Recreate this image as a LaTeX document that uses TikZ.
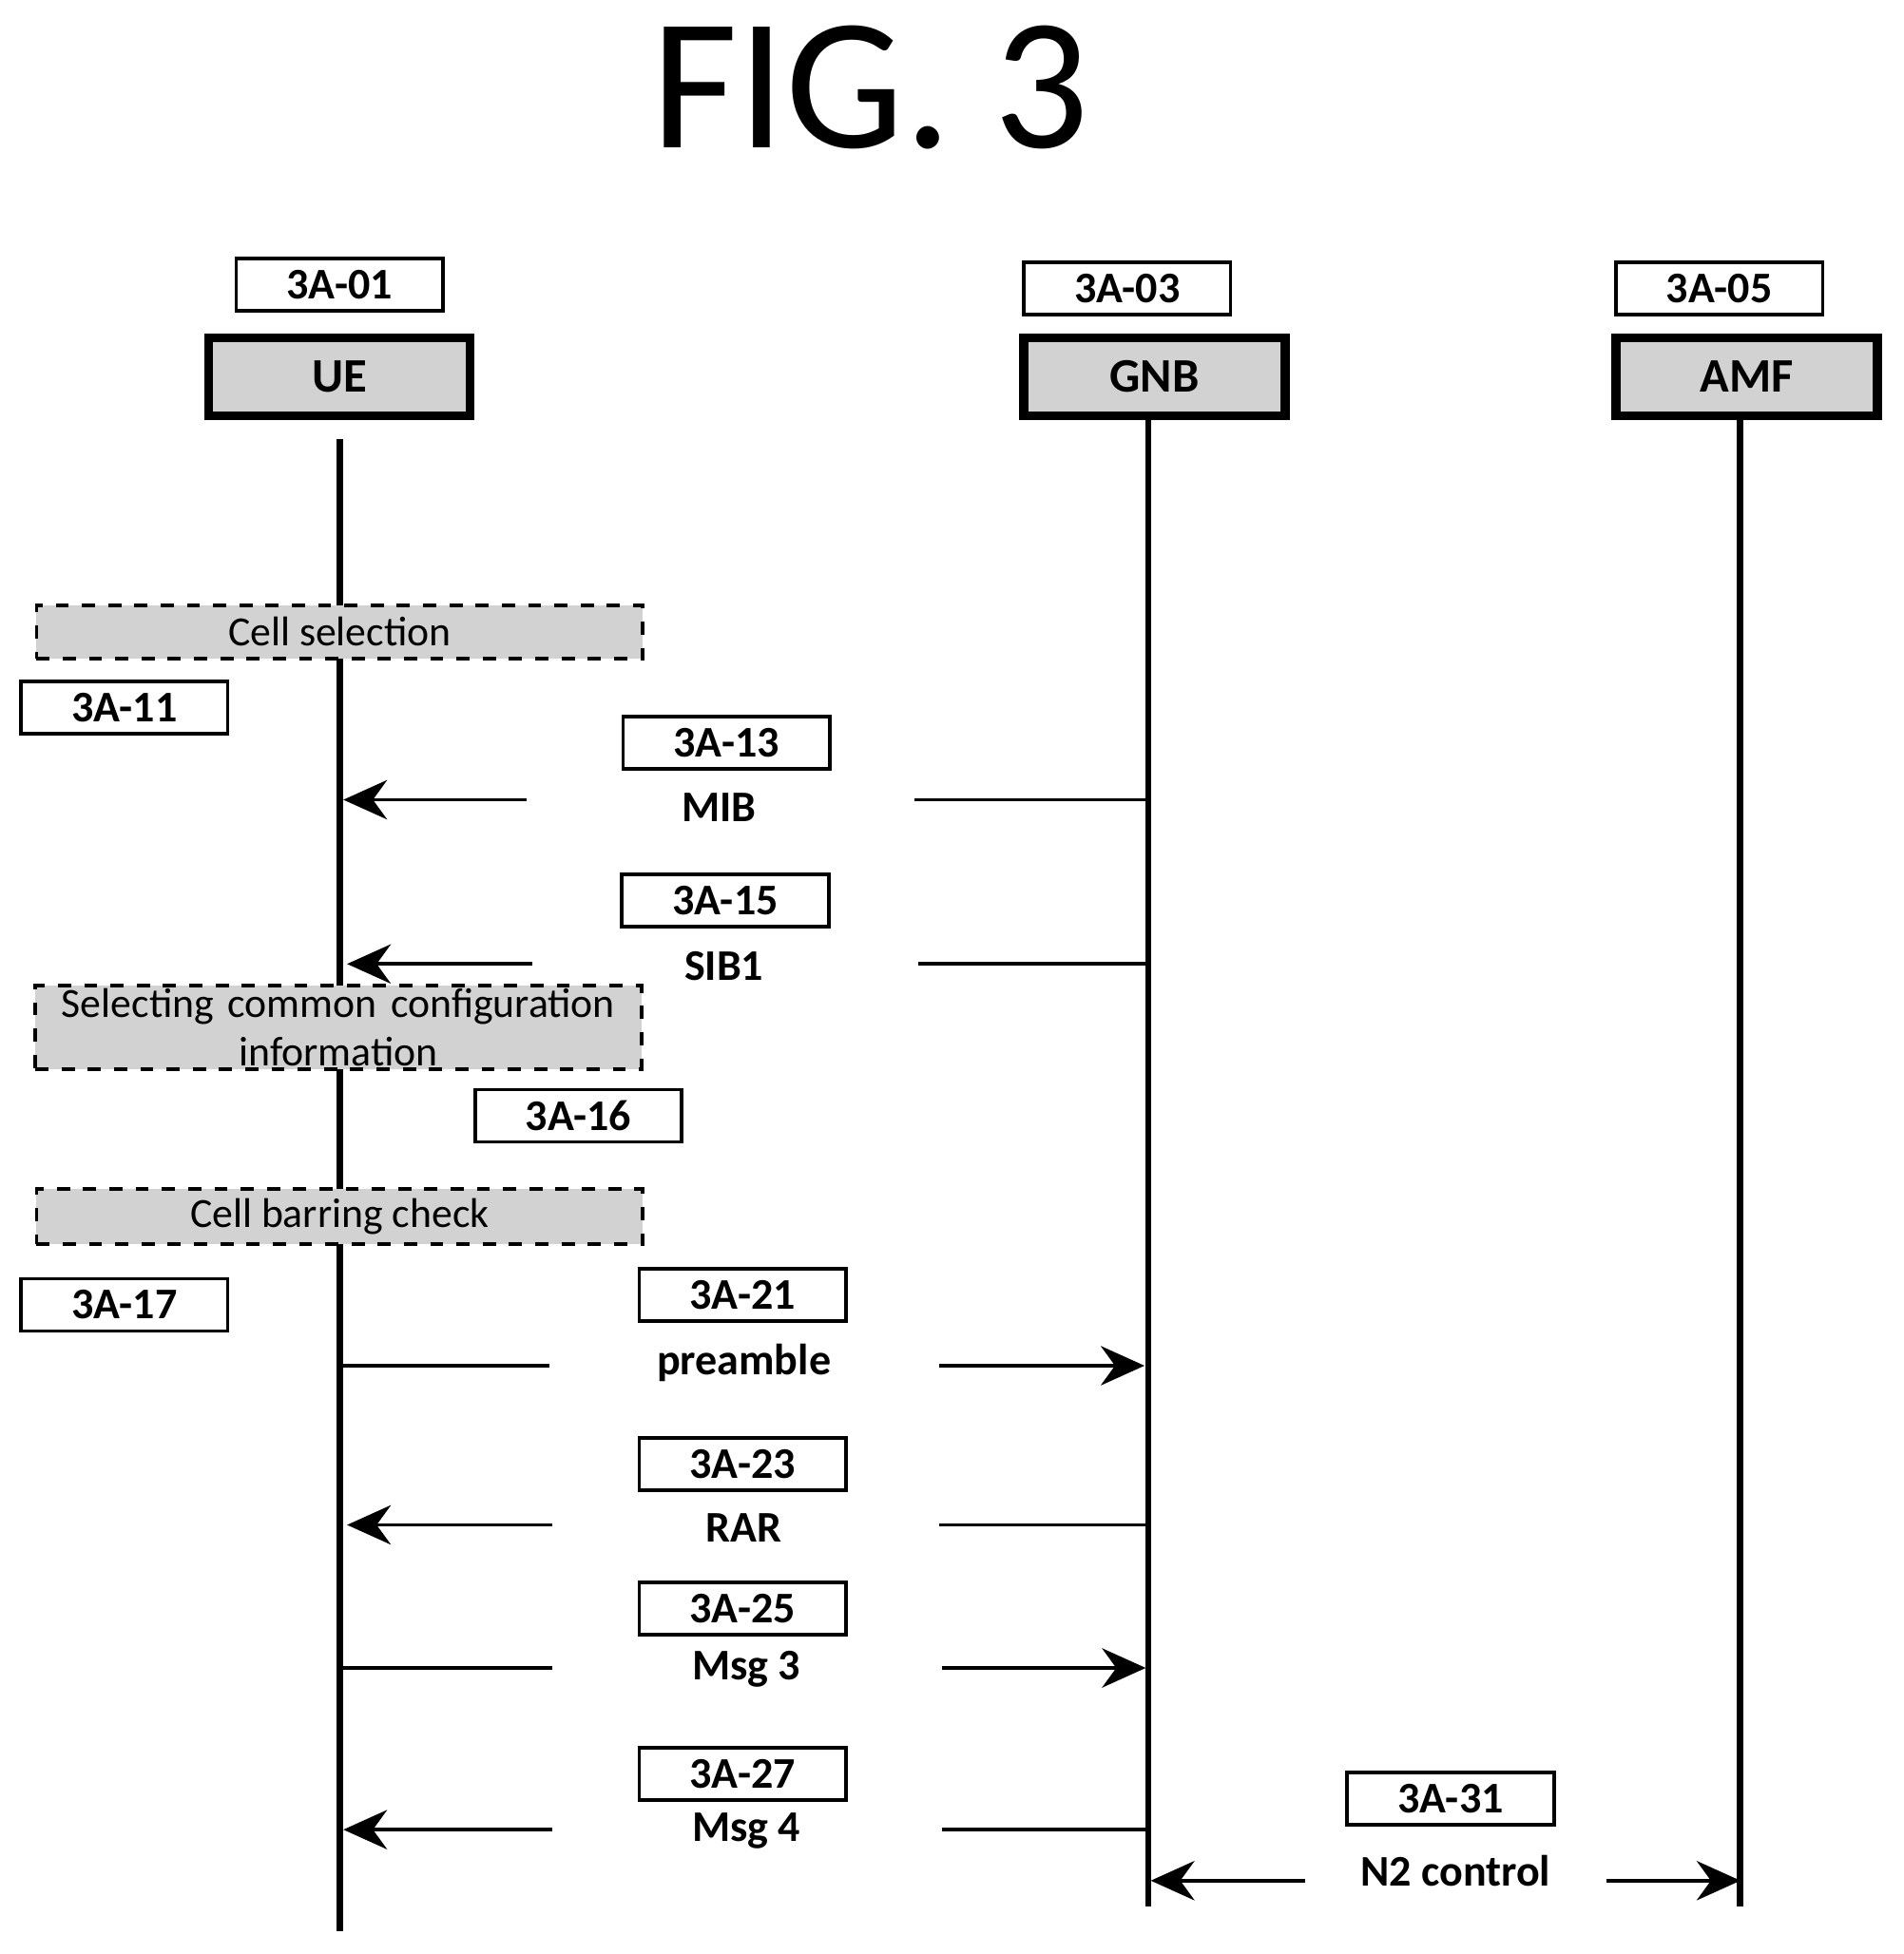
\documentclass[tikz,border=0pt]{standalone}
\usepackage{fontspec}
\setmainfont{Carlito}
\usetikzlibrary{arrows.meta}
\begin{document}
\begin{tikzpicture}[x=0.01cm,y=-0.01cm,
    lbl/.style={draw,thick,minimum width=1.66cm,minimum height=0.42cm,inner sep=0pt,font=\bfseries\fontsize{10}{11}\selectfont},
    ent/.style={draw,line width=2pt,fill=gray!35,minimum width=2.1cm,minimum height=0.63cm,inner sep=0pt,font=\bfseries\fontsize{11}{12}\selectfont},
    action/.style={draw,thick,dashed,fill=gray!35,minimum width=4.87cm,inner sep=0pt,align=center,font=\fontsize{9.5}{11}\selectfont},
    msg/.style={font=\bfseries\fontsize{10}{11}\selectfont},
    life/.style={line width=1.5pt},
    arr/.style={thick,-{Stealth[length=10pt,width=9pt]}}]
    \useasboundingbox (0,0) rectangle (1530,1571);

    \node[font=\fontsize{43}{48}\selectfont] (title) at (700,70) {FIG. 3};

    % entities
    \node[ent] (UE) at (273,303) {UE};
    \node[ent] (GNB) at (928,303) {GNB};
    \node[ent] (AMF) at (1404,303) {AMF};
    \node[lbl] (L01) at (273,229) {3A-01};
    \node[lbl] (L03) at (906,232) {3A-03};
    \node[lbl] (L05) at (1382,232) {3A-05};

    \coordinate (UEtop) at (273,353);
    \coordinate (UEbot) at (273,1553);
    \coordinate (GNBtop) at (923,335);
    \coordinate (GNBbot) at (923,1533);
    \coordinate (AMFtop) at (1399,335);
    \coordinate (AMFbot) at (1399,1533);
    \draw[life] (UEtop) -- (UEbot);
    \draw[life] (GNBtop) -- (GNBbot);
    \draw[life] (AMFtop) -- (AMFbot);

    % UE steps
    \node[action,minimum height=0.43cm] (S1) at (273,508) {Cell selection};
    \node[action,minimum height=0.67cm,text width=4.8cm] (S2) at (272,826) {Selecting common configuration\\information};
    \node[action,minimum height=0.44cm] (S3) at (273,978) {Cell barring check};
    \node[lbl] (L11) at (100,569) {3A-11};
    \node[lbl] (L16) at (465,897) {3A-16};
    \node[lbl] (L17) at (100,1049) {3A-17};

    % messages
    \node[lbl] (L13) at (584,597) {3A-13};
    \node[msg] (MIB) at (578,649) {MIB};
    \coordinate (M1a) at (276,643);  \coordinate (M1b) at (423,643);
    \coordinate (M1c) at (735,643);  \coordinate (M1d) at (921,643);
    \draw[arr] (M1b) -- (M1a);
    \draw[thick] (M1c) -- (M1d);

    \node[lbl] (L15) at (583,724) {3A-15};
    \node[msg] (SIB) at (582,777) {SIB1};
    \coordinate (M2a) at (279,775);  \coordinate (M2b) at (428,775);
    \coordinate (M2c) at (738,775);  \coordinate (M2d) at (921,775);
    \draw[arr] (M2b) -- (M2a);
    \draw[thick] (M2c) -- (M2d);

    \node[lbl] (L21) at (597,1041) {3A-21};
    \node[msg] (PRE) at (598,1096) {preamble};
    \coordinate (M3a) at (274,1098); \coordinate (M3b) at (442,1098);
    \coordinate (M3c) at (755,1098); \coordinate (M3d) at (920,1098);
    \draw[thick] (M3a) -- (M3b);
    \draw[arr] (M3c) -- (M3d);

    \node[lbl] (L23) at (597,1177) {3A-23};
    \node[msg] (RAR) at (598,1228) {RAR};
    \coordinate (M4a) at (279,1226); \coordinate (M4b) at (444,1226);
    \coordinate (M4c) at (755,1226); \coordinate (M4d) at (921,1226);
    \draw[arr] (M4b) -- (M4a);
    \draw[thick] (M4c) -- (M4d);

    \node[lbl] (L25) at (597,1293) {3A-25};
    \node[msg] (MSG3) at (600,1342) {Msg 3};
    \coordinate (M5a) at (274,1341); \coordinate (M5b) at (444,1341);
    \coordinate (M5c) at (757,1341); \coordinate (M5d) at (921,1341);
    \draw[thick] (M5a) -- (M5b);
    \draw[arr] (M5c) -- (M5d);

    \node[lbl] (L27) at (597,1426) {3A-27};
    \node[msg] (MSG4) at (600,1472) {Msg 4};
    \coordinate (M6a) at (276,1471); \coordinate (M6b) at (444,1471);
    \coordinate (M6c) at (757,1471); \coordinate (M6d) at (921,1471);
    \draw[arr] (M6b) -- (M6a);
    \draw[thick] (M6c) -- (M6d);

    \node[lbl] (L31) at (1166,1446) {3A-31};
    \node[msg] (N2) at (1170,1504) {N2 control};
    \coordinate (M7a) at (925,1512); \coordinate (M7b) at (1049,1512);
    \coordinate (M7c) at (1291,1512); \coordinate (M7d) at (1399,1512);
    \draw[arr] (M7b) -- (M7a);
    \draw[arr] (M7c) -- (M7d);
\end{tikzpicture}
\end{document}
